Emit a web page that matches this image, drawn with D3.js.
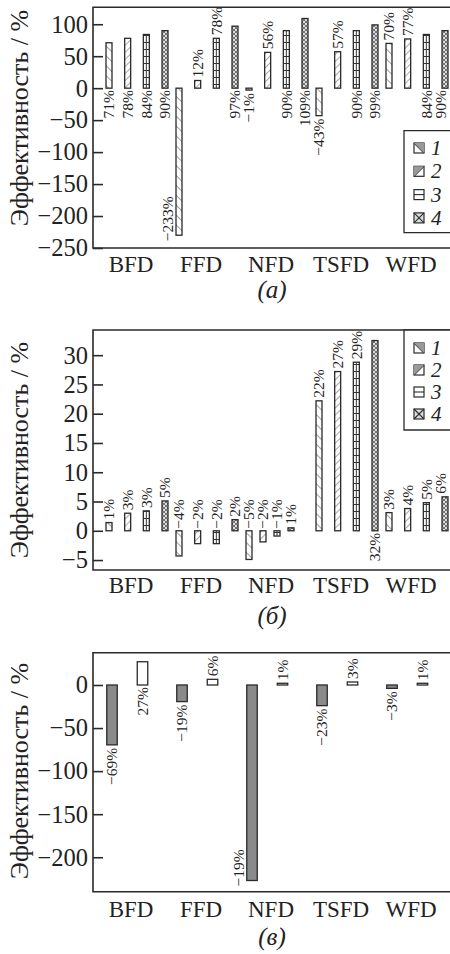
<!DOCTYPE html>
<html>
<head>
<meta charset="utf-8">
<script src="https://cdn.jsdelivr.net/npm/d3@7"></script>
<style>
  body { margin: 0; background: #fff; }
  text { font-family: "Liberation Serif", "Times New Roman", serif; fill: #222; }
</style>
</head>
<body>
<div id="chart"></div>
<script>
// categories
const groups = ["BFD", "FFD", "NFD", "TSFD", "WFD"];
const seriesNames = ["1", "2", "3", "4"];

// panel (а): one array per series, values per group
const a1 = [71, -230, -3, -43, 70];
const a2 = [78, 12, 56, 57, 77];
const a3 = [84, 78, 90, 90, 84];
const a4 = [90, 97, 109, 99, 90];
const aText1 = ["71%", "−233%", "−1%", "−43%", "70%"];
const aText2 = ["78%", "12%", "56%", "57%", "77%"];
const aText3 = ["84%", "78%", "90%", "90%", "84%"];
const aText4 = ["90%", "97%", "109%", "99%", "90%"];
const aTicks = [-250, -200, -150, -100, -50, 0, 50, 100];

// panel (б)
const b1 = [1.4, -4.3, -4.9, 22.2, 3.1];
const b2 = [3.0, -2.2, -1.9, 27.2, 3.8];
const b3 = [3.4, -2.2, -0.9, 28.8, 4.8];
const b4 = [5.1, 1.9, 0.5, 32.5, 5.8];
const bText1 = ["1%", "−4%", "−5%", "22%", "3%"];
const bText2 = ["3%", "−2%", "−2%", "27%", "4%"];
const bText3 = ["3%", "−2%", "−1%", "29%", "5%"];
const bText4 = ["5%", "2%", "1%", "32%", "6%"];
const bTicks = [-5, 0, 5, 10, 15, 20, 25, 30];

// panel (в)
const cGray = [-69.5, -19.3, -227, -24, -3.9];
const cWhite = [27, 6.6, 2, 3.5, 2];
const cTextGray = ["−69%", "−19%", "−19%", "−23%", "−3%"];
const cTextWhite = ["27%", "6%", "1%", "3%", "1%"];
const cTicks = [-200, -150, -100, -50, 0];

// where each value label sits: "end" = past the bar end, "zero" = across the zero line, "left" = beside the bar
const aMode = [["zero", "left", "end", "end", "end"], ["zero", "end", "end", "end", "end"],
               ["zero", "end", "zero", "zero", "zero"], ["zero", "zero", "zero", "zero", "zero"]];
const bMode = [["end", "zero", "zero", "end", "end"], ["end", "zero", "zero", "end", "end"],
               ["end", "zero", "zero", "end", "end"], ["end", "end", "end", "zero", "end"]];
const cMode = [["end", "end", "left", "end", "end"], ["zero", "end", "end", "end", "end"]];

const W = 450, H = 954;
const svg = d3.select("#chart").append("svg").attr("width", W).attr("height", H);
const ink = "#2a2a2a";
const serif = "'Liberation Serif', 'Times New Roman', serif";

const defs = svg.append("defs");
function hatch(id, size, angle, color, sw) {
    const p = defs.append("pattern").attr("id", id).attr("patternUnits", "userSpaceOnUse")
        .attr("width", size).attr("height", size).attr("patternTransform", `rotate(${angle})`);
    p.append("rect").attr("width", size).attr("height", size).attr("fill", "#fff");
    p.append("line").attr("x1", 0).attr("y1", 0).attr("x2", 0).attr("y2", size)
        .attr("stroke", color).attr("stroke-width", sw);
}
hatch("p1", 7, -45, "#444", 1);
hatch("p2", 5, 45, "#555", 1);
const p3 = defs.append("pattern").attr("id", "p3").attr("patternUnits", "userSpaceOnUse")
    .attr("width", 6).attr("height", 7);
p3.append("rect").attr("width", 6).attr("height", 7).attr("fill", "#fff");
p3.append("line").attr("x1", 0).attr("y1", 0.5).attr("x2", 6).attr("y2", 0.5).attr("stroke", "#333").attr("stroke-width", 1);
const p4 = defs.append("pattern").attr("id", "p4").attr("patternUnits", "userSpaceOnUse")
    .attr("width", 4).attr("height", 4);
p4.append("rect").attr("width", 4).attr("height", 4).attr("fill", "#ddd");
p4.append("path").attr("d", "M0,0L4,4M4,0L0,4").attr("stroke", "#666").attr("stroke-width", 0.9);

const fills4 = ["url(#p1)", "url(#p2)", "url(#p3)", "url(#p4)"];

const x0 = d3.scaleBand().domain(groups).range([100, 450]);
const left = 93, right = 453;

function drawPanel(o) {
    const g = svg.append("g");
    const y = d3.scaleLinear().domain(o.domain).range([o.bottom, o.top]);

    // frame
    g.append("path")
        .attr("d", `M${right},${o.top}H${left}V${o.bottom}H${right}`)
        .attr("fill", "none").attr("stroke", ink).attr("stroke-width", 1.6);

    const ax = g.append("g").attr("transform", `translate(${left},0)`)
        .call(d3.axisLeft(y).tickValues(o.ticks).tickSizeInner(-10).tickSizeOuter(0).tickPadding(5));
    ax.attr("font-family", serif).attr("font-size", 24.5);
    ax.select(".domain").remove();
    ax.selectAll("line").attr("stroke", ink).attr("stroke-width", 1.6);
    ax.selectAll("text").attr("fill", "#222");

    // category labels
    g.selectAll(".cat").data(groups).join("text")
        .attr("x", d => x0(d) + 31).attr("y", o.catY)
        .attr("text-anchor", "middle").style("font-size", "23px").text(d => d);

    // y title
    g.append("text")
        .attr("transform", `translate(28,${o.titleY}) rotate(-90)`)
        .attr("text-anchor", "middle").style("font-size", "26px")
        .text("Эффективность / %");

    // caption
    g.append("text").attr("x", 272).attr("y", o.captionY)
        .attr("text-anchor", "middle").style("font-size", "25px")
        .style("font-style", "italic").text(o.caption);

    const y0 = y(0);
    o.series.forEach((vals, s) => {
        vals.forEach((v, i) => {
            const gname = groups[i];
            const x1 = d3.scalePoint().domain(d3.range(o.series.length))
                .range((o.innerOverride && o.innerOverride[gname]) || o.inner);
            const cx = x0(gname) + x1(s);
            const bw = o.barW;
            g.append("rect")
                .attr("x", cx - bw / 2).attr("y", Math.min(y(v), y0))
                .attr("width", bw).attr("height", Math.abs(y(v) - y0))
                .attr("fill", o.fills[s]).attr("stroke", ink).attr("stroke-width", 1.3);
            if (o.fills[s] === "url(#p3)") {
                g.append("line").attr("x1", cx).attr("x2", cx)
                    .attr("y1", Math.min(y(v), y0)).attr("y2", Math.max(y(v), y0))
                    .attr("stroke", "#333").attr("stroke-width", 1);
            }
            // label
            const mode = o.modes[s][i];
            let lx = cx, ly, anchor;
            if (mode === "end") {
                if (v >= 0) { ly = y(v) - 3; anchor = "start"; }
                else { ly = y(v) + 3; anchor = "end"; }
            } else if (mode === "zero") {
                if (v >= 0) { ly = y0 + 2; anchor = "end"; }
                else { ly = y0 - 2; anchor = "start"; }
            } else {
                lx = cx - bw / 2 - 8;
                ly = y(v) + 6; anchor = "start";
            }
            g.append("text")
                .attr("transform", `translate(${Math.min(lx, 441)},${ly}) rotate(-90)`)
                .attr("dy", "0.35em").attr("text-anchor", anchor)
                .style("font-size", "15.5px").text(o.labels[s][i]);
        });
    });

    if (o.legend) {
        const lg = o.legend;
        g.append("path")
            .attr("d", `M${right},${lg.top}H${lg.x}V${lg.bottom}H${right}`)
            .attr("fill", "#fff").attr("stroke", ink).attr("stroke-width", 1.3);
        seriesNames.forEach((name, k) => {
            const cy = lg.first + k * lg.step;
            const sx = 414, sy = cy - 5, sz = 10;
            const it = g.append("g");
            it.append("rect").attr("x", sx).attr("y", sy).attr("width", sz).attr("height", sz)
                .attr("fill", k === 3 ? "#ddd" : "#fff").attr("stroke", ink).attr("stroke-width", 1.2);
            let d;
            if (k === 0) d = `M${sx},${sy}L${sx + sz},${sy + sz}`;
            else if (k === 1) d = `M${sx},${sy + sz}L${sx + sz},${sy}`;
            else if (k === 2) d = `M${sx},${sy + sz / 2}H${sx + sz}`;
            else d = `M${sx},${sy}L${sx + sz},${sy + sz}M${sx},${sy + sz}L${sx + sz},${sy}`;
            it.append("path").attr("d", d).attr("stroke", ink).attr("stroke-width", 1.1);
            if (k === 0) it.append("path").attr("d", `M${sx},${sy}L${sx + sz},${sy}L${sx + sz},${sy + sz}Z`).attr("fill", "#999");
            if (k === 1) it.append("path").attr("d", `M${sx},${sy + sz}L${sx},${sy}L${sx + sz},${sy}Z`).attr("fill", "#999");
            it.append("text").attr("x", 431).attr("y", cy + 7)
                .style("font-size", "21px").style("font-style", "italic").text(name);
        });
    }
}

drawPanel({
    series: [a1, a2, a3, a4], labels: [aText1, aText2, aText3, aText4], modes: aMode,
    domain: [-250, 126.5], top: 7.3, bottom: 248, ticks: aTicks,
    inner: [9, 65], barW: 6, fills: fills4,
    catY: 272, titleY: 118, captionY: 298, caption: "(а)",
    legend: { x: 404, top: 130.7, bottom: 232.7, first: 148, step: 23.3 }
});

drawPanel({
    series: [b1, b2, b3, b4], labels: [bText1, bText2, bText3, bText4], modes: bMode,
    domain: [-6.7, 34.3], top: 330, bottom: 570, ticks: bTicks,
    inner: [9, 65], innerOverride: { NFD: [9, 51] }, barW: 6, fills: fills4,
    catY: 593, titleY: 450, captionY: 624, caption: "(б)",
    legend: { x: 404, top: 330, bottom: 430, first: 348, step: 22 }
});

drawPanel({
    series: [cGray, cWhite], labels: [cTextGray, cTextWhite], modes: cMode,
    domain: [-240, 37.5], top: 652.7, bottom: 891.7, ticks: cTicks,
    inner: [12, 42.5], barW: 10.5, fills: ["#8a8a8a", "#fff"],
    catY: 917, titleY: 771, captionY: 945, caption: "(в)"
});
</script>
</body>
</html>
